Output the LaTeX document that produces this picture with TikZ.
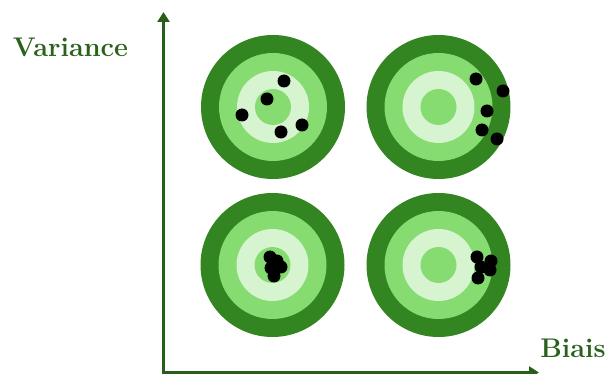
\documentclass[tikz,border=0pt]{standalone}
\usepackage{fontspec}
\usetikzlibrary{arrows.meta}
\definecolor{darkring}{RGB}{51,133,33}
\definecolor{midring}{RGB}{134,220,112}
\definecolor{paler}{RGB}{214,244,208}
\definecolor{axiscol}{RGB}{40,94,26}
\definecolor{labelcol}{RGB}{42,98,28}
\tikzset{
  axisline/.style={draw=axiscol, line width=3pt, -{Triangle[width=12pt,length=10pt]}},
  axislabel/.style={text=labelcol, font=\fontsize{27}{31}\selectfont\bfseries, inner sep=0pt, anchor=base},
  shot/.style={fill=black},
}
\newcommand{\drawtarget}[2]{%
  \fill[darkring] (#1,#2) circle (72);
  \fill[midring] (#1,#2) circle (54);
  \fill[paler] (#1,#2) circle (36);
  \fill[midring] (#1,#2) circle (18);
}
\begin{document}
\begin{tikzpicture}[x=1pt,y=-1pt]
\useasboundingbox (0,0) rectangle (606,374);
% targets
\drawtarget{273}{107}
\drawtarget{438.5}{107}
\drawtarget{272.5}{265}
\drawtarget{438.5}{265}
% shots top-left
\foreach \p in {(284,81),(267,99),(242,115),(302,125),(281,132)}
  \fill[shot] \p circle (6.5);
% shots top-right
\foreach \p in {(476,79),(503,91),(487,111),(482,130),(497,139)}
  \fill[shot] \p circle (6.5);
% shots bottom-left
\foreach \p in {(270,257),(277,261),(281,267),(271,268),(274,276)}
  \fill[shot] \p circle (6.5);
% shots bottom-right
\foreach \p in {(477,257),(491,261),(490,270),(481,267),(478,278)}
  \fill[shot] \p circle (6.5);
% axes
\coordinate (origin) at (163.5,372.5);
\coordinate (ytip) at (163.5,12);
\coordinate (xtip) at (539,372.5);
\draw[axisline] ([yshift=-1.5pt]origin) -- (ytip);
\draw[axisline] ([xshift=-1.5pt]origin) -- (xtip);
\node[axislabel] (ylab) at (70.5,57) {Variance};
\node[axislabel] (xlab) at (573,358) {Biais};
\end{tikzpicture}
\end{document}
